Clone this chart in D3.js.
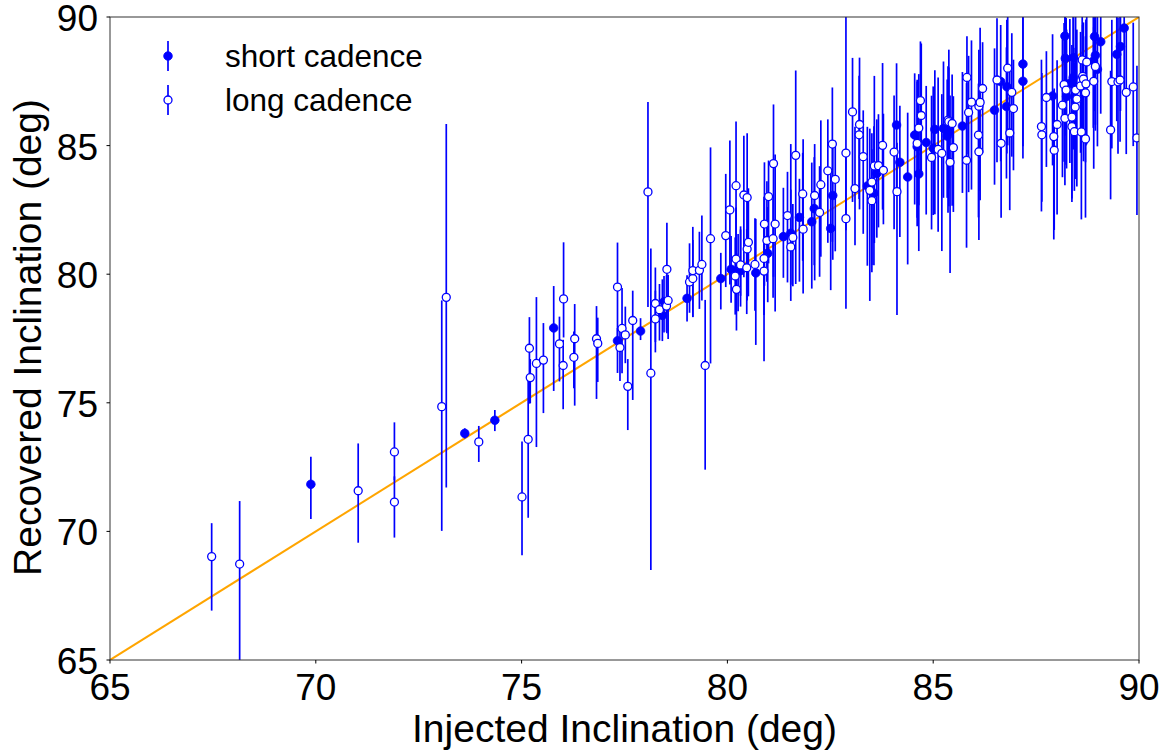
<!DOCTYPE html>
<html>
<head>
<meta charset="utf-8">
<script src="https://cdn.jsdelivr.net/npm/d3@7"></script>
<style>
  body { margin: 0; background: #fff; }
  text { font-family: "Liberation Sans", Arial, sans-serif; fill: #000; }
</style>
</head>
<body>
<svg id="chart" width="1173" height="754"></svg>
<script>
// axis ticks
const xTicks = [65, 70, 75, 80, 85, 90];
const yTicks = [65, 70, 75, 80, 85, 90];

// short cadence: injected, recovered, lower / upper error
const scInjected = [69.88, 73.62, 74.35, 75.78, 77.33, 77.89, 78.42, 78.46, 79.02, 79.84,
  80.09, 80.26, 80.32, 80.69, 80.98, 81.36, 81.54, 81.75, 82.05, 82.11,
  82.56, 82.51, 83.40, 83.56, 83.63, 84.11, 84.19, 84.38, 84.55, 84.61,
  84.65, 84.83, 85.00, 85.04, 85.25, 85.34, 85.38, 85.71, 86.49, 86.64,
  86.79, 86.78, 87.18, 87.18, 87.90, 88.20, 88.21, 88.24, 88.32, 88.41,
  88.40, 88.92, 88.94, 88.99, 88.89, 89.07, 89.46, 89.55, 89.64];
const scRecovered = [71.83, 73.81, 74.32, 77.91, 77.41, 77.79, 78.40, 78.93, 79.06, 79.83,
  80.19, 80.16, 80.14, 80.05, 80.81, 81.46, 81.59, 82.21, 82.04, 82.55,
  83.06, 81.78, 83.43, 83.15, 83.92, 85.80, 84.35, 83.78, 85.41, 84.96,
  83.90, 85.12, 84.90, 85.63, 85.67, 85.37, 85.54, 85.76, 86.38, 87.49,
  87.29, 86.52, 88.17, 87.50, 86.93, 89.26, 88.39, 86.91, 87.42, 88.42,
  87.65, 89.24, 88.51, 87.97, 88.29, 89.04, 88.55, 88.85, 89.57];
const scErrLow = [1.35, 0.20, 0.42, 2.45, 1.25, 0.35, 1.00, 1.20, 0.90, 1.20,
  1.30, 1.60, 1.40, 2.80, 1.90, 1.60, 2.00, 2.50, 2.60, 2.20,
  2.50, 2.40, 3.10, 2.80, 2.50, 2.60, 2.90, 3.40, 2.70, 3.10,
  3.00, 2.80, 2.60, 3.30, 2.70, 2.40, 2.90, 2.60, 2.90, 3.10,
  2.60, 2.80, 3.20, 3.00, 2.70, 3.30, 3.00, 2.80, 3.10, 2.90,
  2.80, 2.90, 2.70, 3.00, 2.60, 2.80, 2.60, 2.50, 2.40];
const scErrHigh = [1.07, 0.20, 0.40, 1.63, 0.50, 0.50, 1.40, 1.00, 0.90, 1.00,
  1.30, 1.40, 1.60, 2.10, 1.80, 1.90, 1.70, 1.50, 2.30, 2.00,
  2.10, 2.20, 2.30, 2.60, 2.10, 2.40, 2.20, 2.50, 2.40, 2.60,
  2.30, 2.20, 2.40, 2.30, 2.60, 2.20, 2.50, 2.10, 2.40, 2.20,
  2.60, 2.30, 2.00, 2.50, 2.40, 1.80, 2.20, 2.60, 2.50, 2.10,
  2.40, 2.00, 2.30, 2.20, 2.50, 1.90, 2.20, 2.00, 1.80];

// long cadence
const lcInjected = [67.47, 68.15, 71.03, 71.91, 71.91, 73.06, 73.17, 73.96, 75.01, 75.16,
  75.19, 75.21, 75.36, 75.53, 75.92, 76.02, 76.01, 76.29, 76.27, 76.82,
  76.85, 77.33, 77.44, 77.52, 77.39, 77.58, 77.70, 78.07, 78.14, 78.25,
  78.25, 78.35, 78.52, 78.56, 78.53, 79.08, 79.16, 79.16, 79.32, 79.38,
  79.46, 79.59, 79.96, 80.06, 80.19, 80.22, 80.21, 80.21, 80.32, 80.48,
  80.51, 80.47, 80.40, 80.48, 80.67, 80.89, 80.89, 80.90, 80.96, 81.00,
  81.12, 81.16, 81.11, 81.46, 81.54, 81.59, 81.66, 81.84, 81.83, 82.12,
  82.24, 82.27, 82.44, 82.55, 82.62, 82.88, 82.88, 83.04, 83.10, 83.21,
  83.20, 83.30, 83.46, 83.51, 83.51, 83.57, 83.67, 83.77, 83.79, 84.05,
  84.12, 84.61, 84.65, 84.69, 84.71, 84.96, 85.12, 85.21, 85.36, 85.38,
  85.46, 85.49, 85.41, 85.82, 85.86, 85.93, 85.81, 86.11, 86.14, 86.10,
  86.11, 86.20, 86.55, 86.81, 86.91, 86.95, 86.86, 86.65, 87.63, 87.64,
  87.75, 87.93, 87.94, 88.01, 88.14, 88.18, 88.20, 88.23, 88.37, 88.37,
  88.43, 88.45, 88.49, 88.46, 88.58, 88.62, 88.63, 88.65, 88.71, 88.70,
  88.60, 88.70, 88.73, 88.90, 88.94, 89.31, 89.34, 89.49, 89.54, 89.69,
  89.86, 89.95];
const lcRecovered = [69.02, 68.73, 71.58, 73.09, 71.14, 74.85, 79.10, 73.48, 71.34, 73.58,
  77.12, 75.98, 76.53, 76.66, 77.29, 79.04, 76.45, 77.49, 76.77, 77.49,
  77.31, 79.50, 77.89, 77.64, 77.15, 75.64, 78.20, 83.20, 76.15, 78.26,
  78.86, 78.62, 78.76, 78.98, 80.19, 79.70, 79.83, 80.14, 80.15, 80.38,
  76.45, 81.38, 81.50, 82.50, 79.93, 79.41, 80.59, 83.44, 80.36, 80.98,
  81.24, 80.25, 83.08, 82.98, 80.38, 80.12, 80.61, 81.95, 81.31, 83.02,
  84.30, 81.95, 81.38, 82.28, 81.06, 81.43, 84.62, 81.75, 83.12, 83.06,
  82.40, 83.48, 84.02, 85.06, 83.69, 84.71, 82.16, 86.31, 83.33, 85.82,
  85.42, 84.57, 83.26, 83.58, 82.86, 84.21, 84.22, 85.01, 84.04, 84.75,
  83.21, 85.09, 85.68, 86.75, 86.17, 84.54, 84.85, 84.70, 85.99, 85.93,
  85.86, 84.92, 84.35, 87.65, 86.29, 86.69, 84.43, 86.53, 86.68, 85.41,
  84.76, 87.22, 87.55, 88.01, 87.07, 86.44, 85.49, 85.09, 85.74, 85.42,
  86.87, 85.35, 84.82, 85.82, 86.57, 87.37, 86.06, 87.16, 85.74, 86.11,
  85.54, 86.50, 86.81, 87.16, 87.32, 88.33, 87.69, 87.59, 87.40, 87.05,
  85.53, 85.26, 88.25, 87.50, 88.08, 85.61, 87.49, 87.48, 87.55, 87.07,
  87.28, 85.30];
const lcErrLow = [2.10, 5.00, 2.02, 1.10, 1.38, 4.83, 7.39, 0.78, 2.27, 3.05,
  2.15, 1.00, 3.25, 2.06, 1.46, 1.50, 1.70, 2.60, 1.20, 2.34,
  1.50, 2.00, 1.74, 1.10, 1.30, 1.70, 3.09, 4.48, 7.65, 1.30,
  1.50, 1.20, 1.00, 1.50, 2.49, 1.20, 1.50, 1.80, 1.50, 1.40,
  4.05, 4.85, 2.00, 2.90, 1.50, 1.60, 1.50, 3.50, 1.20, 2.00,
  2.10, 1.80, 3.20, 3.00, 1.80, 3.50, 2.20, 2.40, 1.60, 2.60,
  4.40, 3.40, 2.30, 2.60, 2.10, 1.90, 5.00, 2.50, 2.60, 3.30,
  2.50, 2.80, 2.80, 3.80, 2.80, 3.00, 3.50, 3.50, 2.20, 3.30,
  2.50, 3.00, 4.30, 3.50, 2.50, 3.00, 2.40, 2.50, 2.10, 3.00,
  4.80, 2.90, 3.00, 2.90, 2.30, 2.80, 3.20, 3.80, 3.60, 2.60,
  3.20, 2.50, 4.30, 3.00, 3.10, 3.40, 3.40, 3.30, 3.80, 3.20,
  3.43, 2.50, 3.20, 3.00, 2.50, 2.40, 3.00, 2.90, 3.30, 2.60,
  2.70, 4.00, 3.10, 3.50, 2.80, 3.00, 2.60, 2.90, 2.80, 3.30,
  2.30, 2.80, 3.40, 2.40, 2.60, 2.90, 2.50, 3.20, 2.40, 2.70,
  3.40, 3.06, 3.20, 3.40, 2.50, 2.70, 2.60, 2.80, 2.40, 2.40,
  2.30, 3.00];
const lcErrHigh = [1.30, 2.45, 1.84, 1.15, 1.00, 4.13, 6.74, 0.62, 2.16, 2.42,
  1.21, 0.72, 2.58, 1.44, 1.06, 2.20, 1.00, 1.35, 1.00, 1.27,
  1.00, 1.73, 1.57, 1.10, 0.80, 1.06, 1.16, 3.50, 4.85, 1.10,
  1.40, 1.00, 1.20, 1.00, 1.81, 1.50, 1.50, 1.70, 1.50, 1.90,
  2.55, 3.55, 2.40, 2.70, 1.50, 1.40, 2.00, 2.50, 1.50, 2.20,
  2.10, 1.50, 2.30, 2.50, 1.80, 2.00, 2.40, 2.40, 2.30, 1.40,
  2.30, 2.70, 1.60, 1.70, 4.00, 1.30, 3.30, 3.50, 1.60, 2.00,
  1.80, 2.50, 2.00, 2.20, 1.50, 5.30, 2.70, 2.10, 2.40, 2.60,
  2.30, 1.80, 2.40, 1.90, 2.00, 3.50, 2.00, 3.20, 2.20, 2.20,
  1.90, 2.40, 2.10, 2.30, 2.80, 2.40, 2.80, 2.30, 2.10, 2.80,
  1.90, 2.00, 2.60, 1.60, 2.20, 2.40, 3.00, 2.20, 2.90, 2.00,
  1.60, 1.80, 2.40, 2.60, 2.30, 1.90, 2.40, 2.50, 2.60, 2.40,
  1.80, 1.80, 2.40, 2.50, 2.60, 2.40, 2.30, 2.80, 2.50, 2.80,
  2.70, 2.30, 2.70, 2.90, 2.10, 1.80, 2.00, 2.20, 2.50, 2.20,
  2.20, 2.40, 2.00, 2.10, 2.00, 2.30, 2.40, 2.50, 2.50, 2.60,
  2.50, 2.80];

const legendLabels = ["short cadence", "long cadence"];

const svg = d3.select("#chart");
const plotLeft = 110, plotRight = 1139, plotTop = 17, plotBottom = 660;

const x = d3.scaleLinear().domain([65, 90]).range([plotLeft, plotRight]);
const y = d3.scaleLinear().domain([65, 90]).range([plotBottom, plotTop]);

svg.append("defs").append("clipPath").attr("id", "plotclip")
  .append("rect")
  .attr("x", plotLeft).attr("y", plotTop)
  .attr("width", plotRight - plotLeft).attr("height", plotBottom - plotTop);

const plot = svg.append("g").attr("clip-path", "url(#plotclip)");

// one-to-one line
plot.append("line")
  .attr("x1", x(65)).attr("y1", y(65))
  .attr("x2", x(90)).attr("y2", y(90))
  .attr("stroke", "orange")
  .attr("stroke-width", 2);

function makeRows(xs, ys, lo, hi) {
  return xs.map((v, i) => ({ x: v, y: ys[i], lo: lo[i], hi: hi[i] }));
}
const sc = makeRows(scInjected, scRecovered, scErrLow, scErrHigh);
const lc = makeRows(lcInjected, lcRecovered, lcErrLow, lcErrHigh);

function drawSeries(rows, filled) {
  const g = plot.append("g");
  g.selectAll("line")
    .data(rows)
    .enter()
    .append("line")
    .attr("x1", d => x(d.x)).attr("x2", d => x(d.x))
    .attr("y1", d => y(d.y - d.lo)).attr("y2", d => y(d.y + d.hi))
    .attr("stroke", "#0000ff")
    .attr("stroke-width", 1.7);
  g.selectAll("circle")
    .data(rows)
    .enter()
    .append("circle")
    .attr("cx", d => x(d.x)).attr("cy", d => y(d.y))
    .attr("r", filled ? 4.3 : 4)
    .attr("fill", filled ? "#0000ff" : "#fff")
    .attr("stroke", "#0000ff")
    .attr("stroke-width", filled ? 0.8 : 1.3);
}
drawSeries(sc, true);
drawSeries(lc, false);

// frame
svg.append("rect")
  .attr("x", plotLeft).attr("y", plotTop)
  .attr("width", plotRight - plotLeft).attr("height", plotBottom - plotTop)
  .attr("fill", "none")
  .attr("stroke", "#333")
  .attr("stroke-width", 1);

// ticks
svg.selectAll(".xt").data(xTicks).enter().append("line")
  .attr("x1", d => x(d)).attr("x2", d => x(d))
  .attr("y1", plotBottom).attr("y2", plotBottom + 3.5)
  .attr("stroke", "#000");
svg.selectAll(".yt").data(yTicks).enter().append("line")
  .attr("x1", plotLeft - 3.5).attr("x2", plotLeft)
  .attr("y1", d => y(d)).attr("y2", d => y(d))
  .attr("stroke", "#000");

svg.selectAll(".xl").data(xTicks).enter().append("text")
  .attr("x", d => x(d)).attr("y", 700)
  .attr("text-anchor", "middle")
  .style("font-size", "37px")
  .text(d => d);
svg.selectAll(".yl").data(yTicks).enter().append("text")
  .attr("x", 98).attr("y", d => y(d) + 14)
  .attr("text-anchor", "end")
  .style("font-size", "37px")
  .text(d => d);

svg.append("text")
  .attr("x", (plotLeft + plotRight) / 2).attr("y", 742)
  .attr("text-anchor", "middle")
  .style("font-size", "39px")
  .text("Injected Inclination (deg)");
svg.append("text")
  .attr("transform", "translate(41," + ((plotTop + plotBottom) / 2 - 1) + ") rotate(-90)")
  .attr("text-anchor", "middle")
  .style("font-size", "39px")
  .text("Recovered Inclination (deg)");

// legend
const legend = svg.append("g");
legendLabels.forEach((lab, i) => {
  const cy = 56 + i * 44;
  legend.append("line")
    .attr("x1", 168).attr("x2", 168)
    .attr("y1", cy - 15).attr("y2", cy + 15)
    .attr("stroke", "#0000ff").attr("stroke-width", 1.7);
  legend.append("circle")
    .attr("cx", 168).attr("cy", cy)
    .attr("r", i === 0 ? 4.3 : 4)
    .attr("fill", i === 0 ? "#0000ff" : "#fff")
    .attr("stroke", "#0000ff")
    .attr("stroke-width", i === 0 ? 0.8 : 1.3);
  legend.append("text")
    .attr("x", 225).attr("y", cy + 11)
    .style("font-size", "31.5px")
    .text(lab);
});
</script>
</body>
</html>
